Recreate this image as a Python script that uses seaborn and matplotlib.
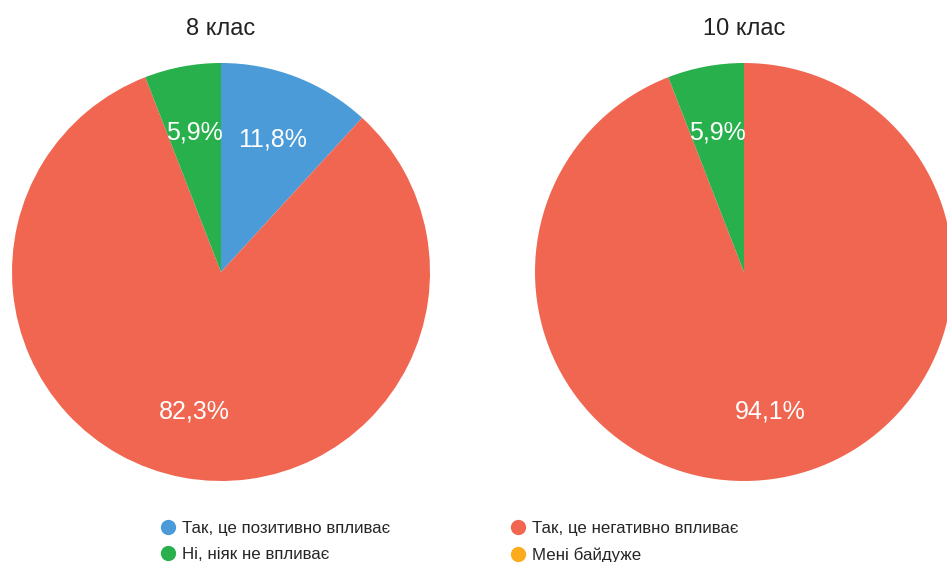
import matplotlib
matplotlib.use("Agg")
import matplotlib.pyplot as plt
from matplotlib.lines import Line2D
import seaborn as sns

# data
categories = ["Так, це позитивно впливає", "Так, це негативно впливає",
              "Ні, ніяк не впливає", "Мені байдуже"]
grade8 = [11.8, 82.3, 5.9, 0.0]
grade10 = [0.0, 94.1, 5.9, 0.0]
titles = ["8 клас", "10 клас"]
colors = ["#4a9bd7", "#f16651", "#27b04b", "#fbab1c"]

sns.set_theme(style="white")
plt.rcParams['font.family'] = ['Liberation Sans', 'DejaVu Sans']

fig = plt.figure(figsize=(9.47, 5.62), dpi=100)
W, H = 947, 562
R = 209


def pct_label(p):
    # no label for empty slices, comma as decimal mark
    if p < 0.05:
        return ""
    return f"{p:.1f}%".replace(".", ",")


def draw_pie(cx, cy, values, title):
    ax = fig.add_axes([(cx - R) / W, (H - cy - R) / H, 2 * R / W, 2 * R / H])
    vals = [v for v in values if v > 0]
    cols = [c for v, c in zip(values, colors) if v > 0]
    ax.pie(vals, colors=cols, startangle=90, counterclock=False,
           autopct=pct_label, pctdistance=0.68,
           wedgeprops=dict(linewidth=0),
           textprops=dict(color="white", fontsize=18))
    ax.set_xlim(-1, 1)
    ax.set_ylim(-1, 1)
    fig.text(cx / W, (H - 35) / H, title, ha="center", va="baseline",
             fontsize=17, color="#222222")
    return ax


draw_pie(221, 272, grade8, titles[0])
draw_pie(744, 272, grade10, titles[1])


def handle(c):
    return Line2D([], [], marker="o", linestyle="none", markersize=11,
                  markerfacecolor=c, markeredgewidth=0)


leg_kw = dict(loc="upper left", frameon=False, handlelength=1.0,
              handletextpad=0.3, labelspacing=0.65, borderpad=0,
              borderaxespad=0, fontsize=12.2)

fig.legend([handle(colors[0]), handle(colors[2])],
           [categories[0], categories[2]],
           bbox_to_anchor=(159.5 / W, 1 - 521 / H), **leg_kw)
fig.legend([handle(colors[1]), handle(colors[3])],
           [categories[1], categories[3]],
           bbox_to_anchor=(509.5 / W, 1 - 521 / H), **leg_kw)

plt.savefig("out.png", dpi=100)
